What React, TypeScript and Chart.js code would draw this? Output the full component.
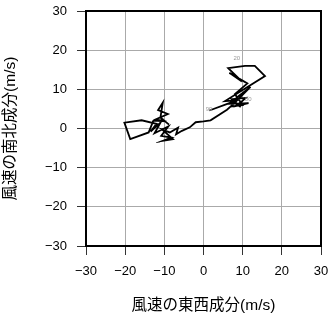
import React, { useEffect, useRef } from 'react';
import { Chart, registerables } from 'chart.js';

Chart.register(...registerables);

// Wind hodograph: east-west (u) and north-south (v) components, m/s
const eastWind = [
  1.5, 7.5, 9.5, 7.2, 10.8, 8.5, 11.5, 6.8, 9.0, 12.0,
  7.0, 10.0, 8.0, 11.2, 6.6, 9.8, 6.3, 10.6, 13.1, 15.7,
  5.5, 8.5, 7.6, 6.0, 1.8, 0.0, -2.0, -3.5, -5.5, -7.0,
  -6.5, -8.6, -10.5, -7.8, -10.3, -8.2, -10.8, -9.0, -12.5, -11.0,
  -13.5, -12.0, -15.8, -20.2, -18.7, -14.0, -12.8, -9.5, -12.2, -9.1,
  -11.6, -10.4, -11.0, -8.8,
];
const northWind = [
  4.6, 6.8, 5.5, 7.5, 7.8, 5.8, 6.5, 6.3, 8.3, 10.6,
  5.6, 6.0, 8.8, 11.5, 14.2, 12.0, 15.4, 16.0, 16.0, 13.4,
  7.0, 7.2, 6.2, 4.8, 2.1, 1.8, 1.6, 0.3, -0.6, -1.5,
  0.2, -1.0, -0.3, -2.7, -3.1, -2.3, -1.9, 0.5, -1.2, 1.5,
  -0.8, 1.2, 2.1, 1.5, -2.7, -1.0, 2.0, 1.8, 2.3, 3.7,
  4.7, 6.6, 2.8, 1.0,
];
const tickValues = [-30, -20, -10, 0, 10, 20, 30];
const markerLabels = ['99', '00', '20'];
const markerEast = [1.4, 11.4, 8.5];
const markerNorth = [5.0, 7.5, 17.9];

const FONT = '"Liberation Sans", "Noto Sans CJK JP", sans-serif';
const fmt = (v: number | string) => String(v).replace('-', '\u2212');

export default function App() {
  const ref = useRef<HTMLCanvasElement | null>(null);

  useEffect(() => {
    if (!ref.current) return;
    const framePlugin = {
      id: 'frameAndMarkers',
      afterDatasetsDraw(chart: any) {
        const { ctx, chartArea, scales } = chart;
        ctx.save();
        ctx.fillStyle = '#999';
        ctx.font = '6px ' + FONT;
        ctx.textAlign = 'center';
        ctx.textBaseline = 'middle';
        markerLabels.forEach((t, i) => {
          ctx.fillText(t, scales.x.getPixelForValue(markerEast[i]), scales.y.getPixelForValue(markerNorth[i]));
        });
        ctx.strokeStyle = '#000';
        ctx.lineWidth = 2;
        ctx.strokeRect(chartArea.left, chartArea.top, chartArea.right - chartArea.left, chartArea.bottom - chartArea.top);
        ctx.restore();
      },
    };
    const axis = (title: string, isX: boolean) => ({
      type: 'linear' as const,
      position: isX ? 'bottom' : 'left',
      min: -30,
      max: 30,
      afterBuildTicks: (s: any) => {
        s.ticks = tickValues.map((v) => ({ value: v }));
      },
      afterFit: (s: any) => {
        if (isX) s.height = 72;
        else s.width = 86;
        s.paddingTop = 0;
        s.paddingBottom = 0;
        s.paddingLeft = 0;
        s.paddingRight = 0;
      },
      ticks: {
        color: '#000',
        font: { size: 13, family: FONT },
        padding: isX ? 9 : 10,
        callback: (v: any) => fmt(v),
      },
      grid: { color: '#aaa', lineWidth: 1, tickColor: '#333', tickLength: 9 },
      border: { color: '#000', width: 2 },
      title: {
        display: true,
        text: title,
        color: '#000',
        font: { size: 15.5, family: FONT },
        padding: isX ? { top: 0, bottom: 3 } : { top: 1, bottom: 0 },
      },
    });
    const chart = new Chart(ref.current, {
      type: 'scatter',
      data: {
        datasets: [
          {
            data: eastWind.map((u, i) => ({ x: u, y: northWind[i] })),
            showLine: true,
            borderColor: '#000',
            borderWidth: 1.8,
            pointRadius: 0,
            tension: 0,
          },
        ],
      },
      options: {
        responsive: false,
        animation: false,
        layout: { padding: { top: 11, right: 10, left: 0, bottom: 0 } },
        plugins: { legend: { display: false }, tooltip: { enabled: false } },
        scales: {
          x: axis('風速の東西成分(m/s)', true) as any,
          y: axis('風速の南北成分(m/s)', false) as any,
        },
      },
      plugins: [framePlugin],
    });
    return () => chart.destroy();
  }, []);

  return (
    <div style={{ position: 'fixed', left: 0, top: 0, width: 331, height: 318, background: '#fff' }}>
      <canvas ref={ref} width={331} height={318} style={{ display: 'block' }} />
    </div>
  );
}
